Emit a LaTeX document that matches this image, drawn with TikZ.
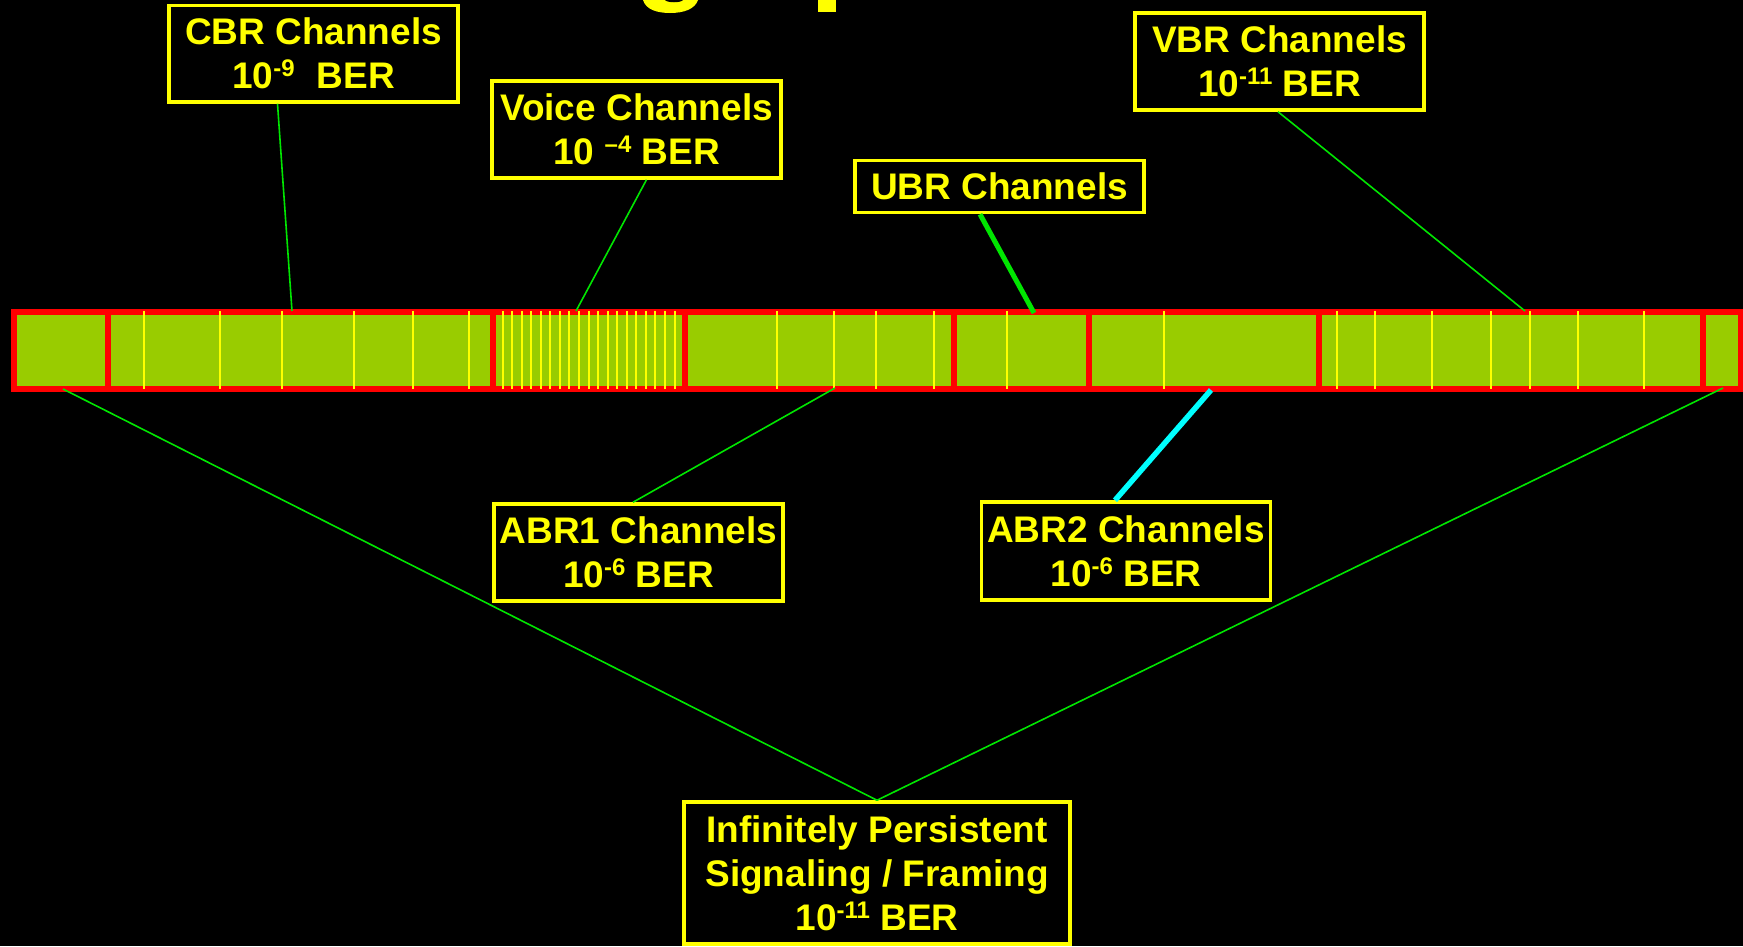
\documentclass[tikz,border=0pt]{standalone}
\usepackage{fontspec}
\setmainfont{Liberation Sans}
\usetikzlibrary{calc}
\definecolor{barfill}{RGB}{153,204,0}
\definecolor{linegreen}{RGB}{0,230,0}
\definecolor{ttyellow}{RGB}{255,255,0}
\definecolor{cyanline}{RGB}{0,255,255}
\definecolor{barred}{RGB}{255,0,0}
\newcommand\mysup[1]{\raisebox{12pt}{\fontsize{24}{24}\selectfont #1}}
\begin{document}
\begin{tikzpicture}[x=1pt,y=-1pt,
  labelbox/.style={draw=ttyellow, line width=3.5pt, text=ttyellow, fill=black,
    font=\fontsize{37}{44}\selectfont\bfseries, align=center,
    minimum width=289pt, inner sep=0pt},
  thinconn/.style={draw=linegreen, line width=1.6pt},
  thickconn/.style={draw=linegreen, line width=5pt},
  cyanconn/.style={draw=cyanline, line width=5.5pt},
  divider/.style={draw=barred, line width=6pt},
  slot/.style={draw=ttyellow, line width=2pt}]
\fill[black] (0,0) rectangle (1743,946);
\useasboundingbox (0,0) rectangle (1743,946);

% fragments of the cut-off title
\fill[ttyellow] (643,0) .. controls (646,10) and (658,13) .. (670,13) .. controls (684,13) and (695,9) .. (698,0) -- cycle;
\fill[black] (665,0) .. controls (667,3) and (681,3) .. (683,0) -- cycle;
\fill[ttyellow] (818,0) rectangle (836,11.7);

% the bar
\draw[draw=barred, line width=6pt, fill=barfill] (13.5,312) rectangle (1740.5,389);
\foreach \x in {108,493,684.5,954,1089,1319,1703}
  \draw[divider] (\x,312) -- (\x,389);
\foreach \x in {144,220,282,354,413,469,
    502.5,512,521.6,531.2,540.7,550.3,559.8,569.4,579,588.5,598.1,607.6,617.2,626.8,636.3,645.9,655.4,665,674.5,
    776.7,833.7,876,934,1006.7,1164,1337,1375,1432,1491,1530,1578,1644}
  \draw[slot] (\x,311) -- (\x,389);

% attachment points on the bar
\coordinate (pcbr) at (292,311);
\coordinate (pvoice) at (576,311);
\coordinate (pubr) at (1034,313);
\coordinate (pvbr) at (1525,311);
\coordinate (pabra) at (835,388);
\coordinate (pabrb) at (1211,390);
\coordinate (pleft) at (63,389);
\coordinate (pright) at (1723,388);

% label boxes
\node[labelbox, minimum height=96.5pt] (cbr) at (313.5,53.75) {CBR Channels\\10\mysup{-9}\hspace{22pt}BER};
\node[labelbox, minimum height=97pt] (voice) at (636.5,129.5) {Voice Channels\\10 \mysup{–4} BER};
\node[labelbox, minimum height=52pt] (ubr) at (999.5,186.5) {UBR Channels};
\node[labelbox, minimum height=97pt] (vbr) at (1279.5,61.5) {VBR Channels\\10\mysup{-11} BER};
\node[labelbox, minimum height=97pt] (abra) at (638.5,552.5) {ABR1 Channels\\10\mysup{-6} BER};
\node[labelbox, minimum height=98pt] (abrb) at (1126,551) {ABR2 Channels\\10\mysup{-6} BER};
\node[labelbox, minimum width=386pt, minimum height=142pt] (inf) at (877,873) {Infinitely Persistent\\Signaling / Framing\\10\mysup{-11} BER};

% connectors
\draw[thinconn] ([xshift=-36pt]cbr.south) -- (pcbr);
\draw[thinconn] ([xshift=10pt]voice.south) -- (pvoice);
\draw[thickconn] ([xshift=-19.5pt]ubr.south) -- (pubr);
\draw[thinconn] ([xshift=-1.5pt]vbr.south) -- (pvbr);
\draw[thinconn] ([xshift=-5.5pt]abra.north) -- (pabra);
\draw[cyanconn] ([xshift=-11pt]abrb.north) -- (pabrb);
\draw[thinconn] (inf.north) -- (pleft);
\draw[thinconn] (inf.north) -- (pright);
\end{tikzpicture}
\end{document}
